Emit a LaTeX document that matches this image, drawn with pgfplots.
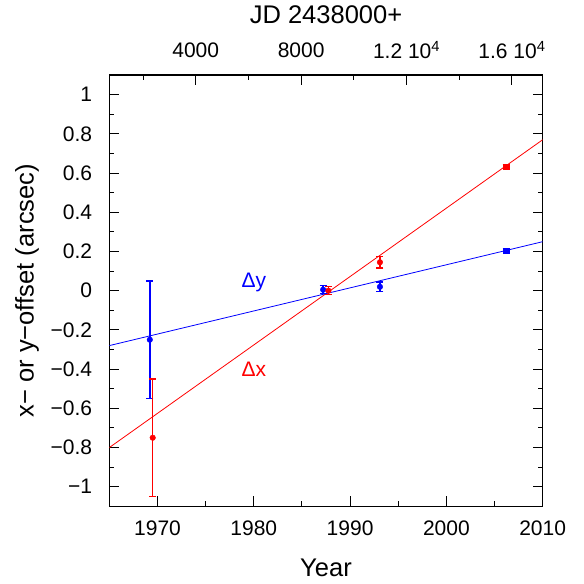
\documentclass[border=0pt]{standalone}
\usepackage{pgfplots}
\pgfplotsset{compat=1.18}
\usepackage{fontspec}
\setmainfont{Liberation Sans}

\pgfplotstableread{
x y e
1969.2 -0.25 0.30
1987.2 0.005 0.02
1993.1 0.02 0.025
}\dytab
\pgfplotstableread{
x y e
1969.5 -0.75 0.30
1987.75 0.0 0.02
1993.1 0.145 0.03
}\dxtab
\pgfplotstableread{
x y e
2006.2 0.205 0.01
}\dylast
\pgfplotstableread{
x y e
2006.2 0.632 0.01
}\dxlast

\begin{document}
\begin{tikzpicture}
\pgfplotsset{
  common/.style={
    scale only axis, width=433pt, height=431pt,
    ymin=-1.1, ymax=1.1,
    tick align=inside,
    major tick length=10pt, minor tick length=5pt,
    every tick/.style={black, line width=1pt},
    every minor tick/.style={black, line width=1pt},
    tick label style={font=\fontsize{21}{24}\selectfont},
    label style={font=\fontsize{25.5}{28}\selectfont},
    scaled x ticks=false, scaled y ticks=false,
  },
  ebar/.style={error bars/.cd, y dir=both, y explicit,
    error bar style={line width=1.4pt, draw=#1},
    error mark options={rotate=90, mark size=3.5pt, line width=1.4pt, draw=#1}},
}
\begin{axis}[common, name=main,
  xmin=1965, xmax=2010,
  axis line style={line width=1.3pt, black},
  xtick pos=lower, ytick pos=both, yticklabel pos=left,
  xtick={1970,1980,1990,2000,2010},
  xticklabels={1970,1980,1990,2000,2010},
  minor xtick={1975,1985,1995,2005},
  ytick={-1,-0.8,-0.6,-0.4,-0.2,0,0.2,0.4,0.6,0.8,1},
  yticklabels={−1,−0.8,−0.6,−0.4,−0.2,0,0.2,0.4,0.6,0.8,1},
  minor ytick={-0.9,-0.7,-0.5,-0.3,-0.1,0.1,0.3,0.5,0.7,0.9},
  xticklabel style={anchor=center, yshift=-22pt, inner sep=0pt},
  yticklabel style={anchor=east, inner sep=0pt, xshift=-17pt},
  xlabel={Year},
  xlabel style={at={(axis description cs:0.5,-0.1415)}, anchor=center},
  ylabel={x− or y−offset (arcsec)},
  ylabel style={at={(axis description cs:-0.19,0.5)}, anchor=center},
  clip=true,
]
\addplot[red, line width=0.8pt] coordinates {(1965,-0.80) (2010,0.77)};
\addplot[blue, line width=0.8pt] coordinates {(1965,-0.28) (2010,0.25)};
\addplot[blue, only marks, mark=*, mark size=2.8pt, ebar=blue]
  table[x=x, y=y, y error=e] {\dytab};
\addplot[red, only marks, mark=*, mark size=2.8pt, ebar=red]
  table[x=x, y=y, y error=e] {\dxtab};
\addplot[blue, only marks, mark=square*, mark size=2.8pt, ebar=blue]
  table[x=x, y=y, y error=e] {\dylast};
\addplot[red, only marks, mark=square*, mark size=2.8pt, ebar=red]
  table[x=x, y=y, y error=e] {\dxlast};
\node[blue, font=\fontsize{21}{24}\selectfont] at (axis cs:1980,0.04) {Δy};
\node[red, font=\fontsize{21}{24}\selectfont] at (axis cs:1980,-0.40) {Δx};
\end{axis}
\begin{axis}[common,
  xmin=722, xmax=17165,
  axis x line*=top, axis y line=none,
  axis line style={line width=1.3pt, black},
  xtick={4000,8000,12000,16000},
  xticklabels={4000,8000,1.2 10\textsuperscript{4},1.6 10\textsuperscript{4}},
  minor xtick={2000,6000,10000,14000},
  xticklabel style={anchor=center, yshift=25pt, inner sep=0pt},
  xlabel={JD 2438000+},
  xlabel style={at={(axis description cs:0.5,1.139)}, anchor=center},
]
\addplot[draw=none] coordinates {(722,0)};
\end{axis}
\path ([shift={(-109.3pt,-77pt)}]main.south west) rectangle ([shift={(41.3pt,75pt)}]main.north east);
\end{tikzpicture}
\end{document}
